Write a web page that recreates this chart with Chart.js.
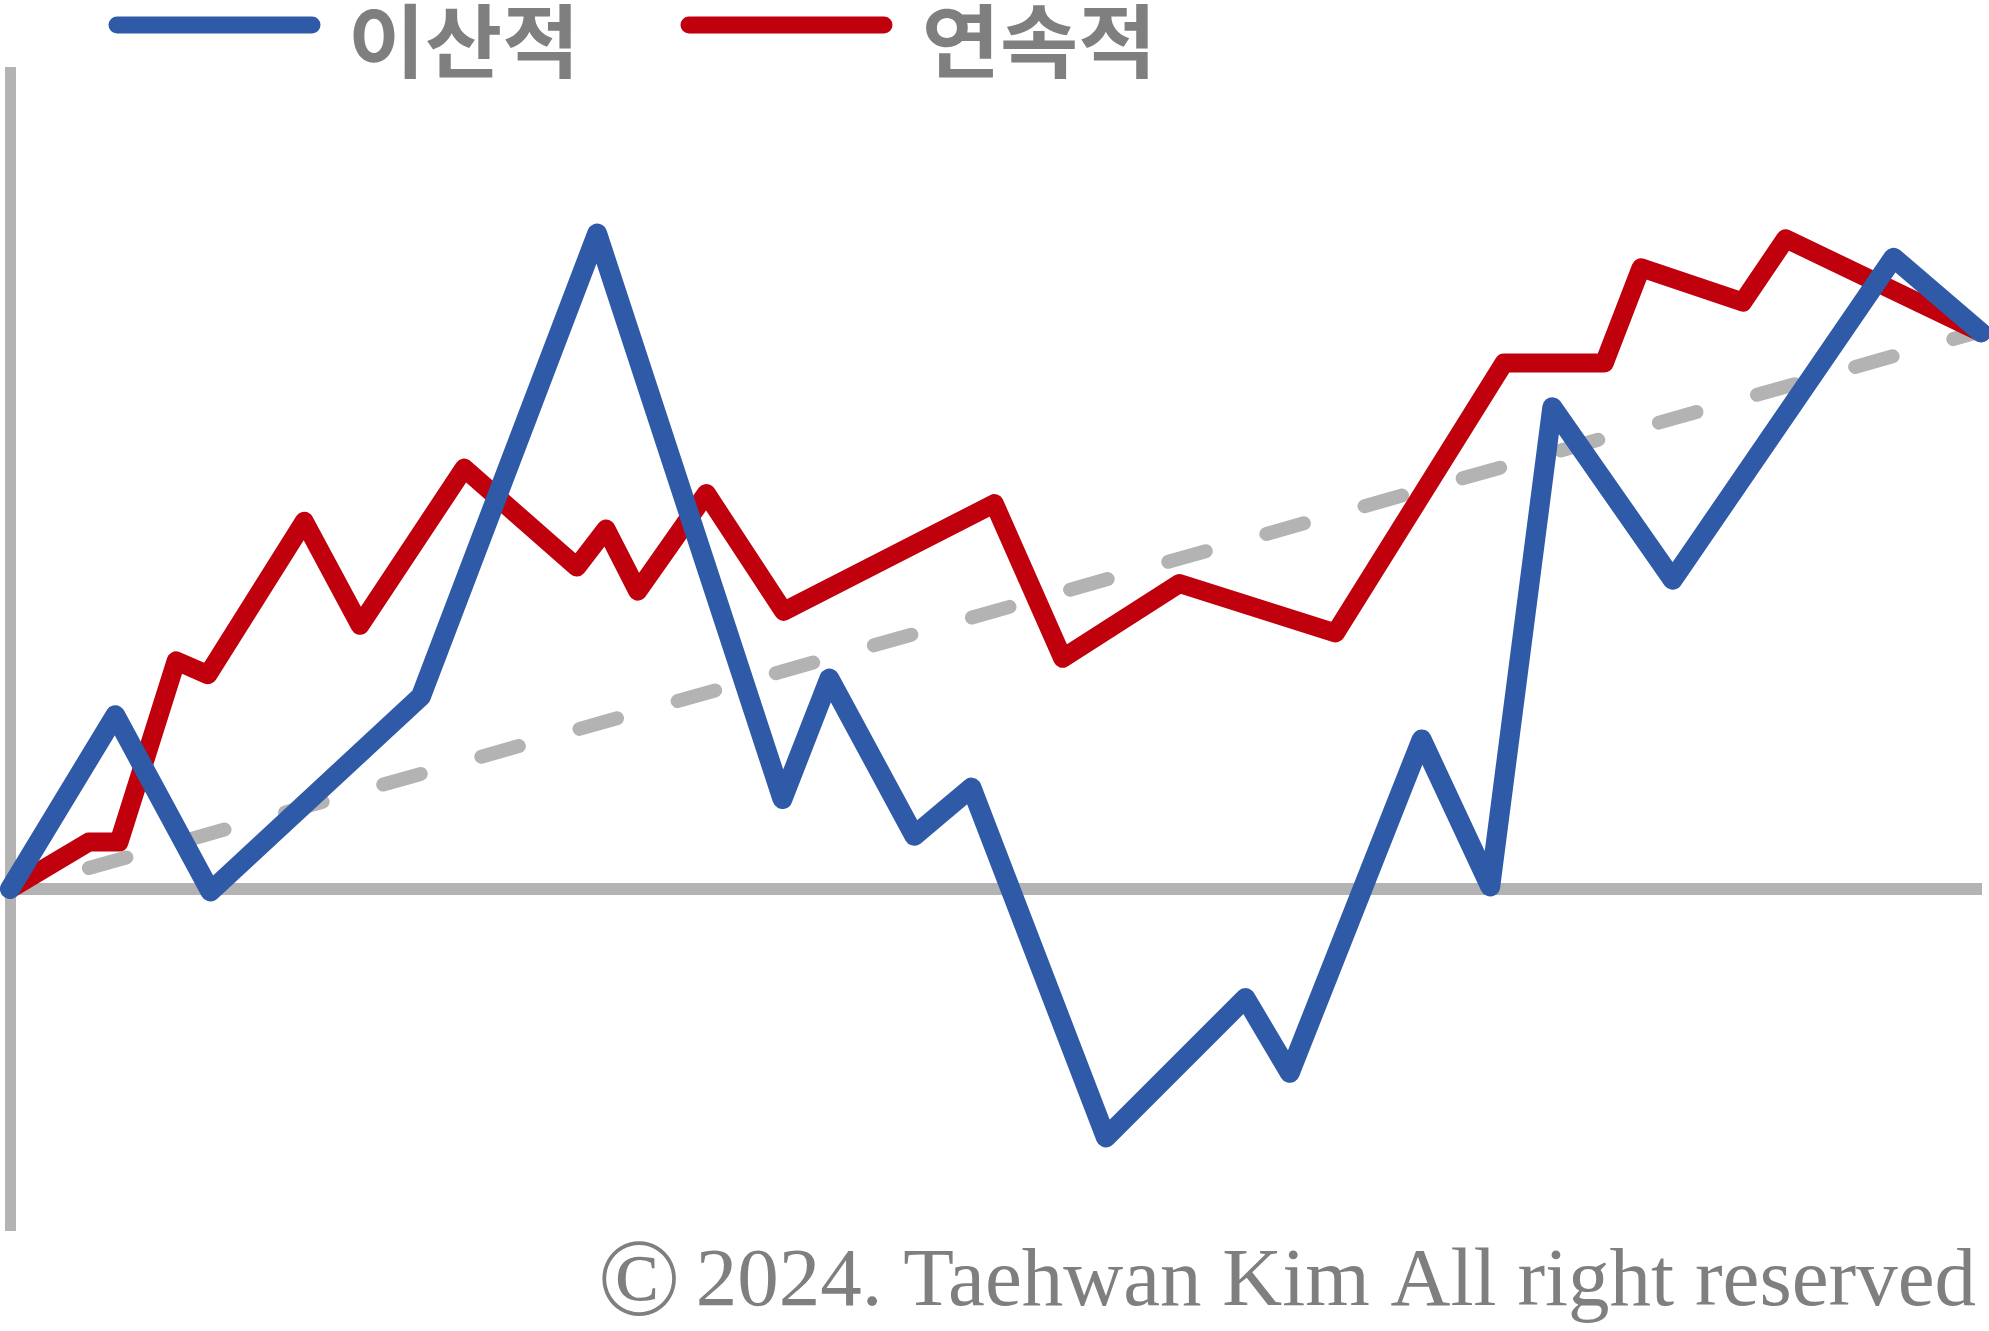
<!DOCTYPE html>
<html><head><meta charset="utf-8">
<script src="https://cdn.jsdelivr.net/npm/chart.js@4.4.1/dist/chart.umd.min.js"></script>
<style>html,body{margin:0;padding:0;background:#fff;overflow:hidden}#wrap{width:1989px;height:1331px;position:relative}</style>
</head><body><div id="wrap"><canvas id="c"></canvas></div>
<script>
// ---- data (x: time units 0..100, y: value, 0 = baseline) ----
const seriesNames = ['이산적', '연속적'];
const discreteX = [0, 5.34, 10.17, 20.85, 29.79, 39.19, 41.57, 45.88, 48.78, 55.60, 62.68, 64.93, 71.62, 75.10, 78.25, 84.36, 95.56, 100];
const discreteY = [0, 27.4, -0.4, 30.4, 103.4, 14.2, 33.2, 8.4, 16.0, -39.2, -17.2, -29.0, 23.6, 0.4, 76.0, 48.8, 99.6, 87.8];
const continuousX = [0, 3.99, 5.53, 8.43, 10.04, 14.93, 17.76, 23.04, 28.76, 30.24, 31.85, 35.33, 39.25, 49.94, 53.41, 59.33, 67.25, 75.80, 80.89, 82.75, 87.91, 90.09, 100];
const continuousY = [0, 7.4, 7.4, 36.0, 33.8, 58.0, 41.6, 66.4, 50.8, 56.8, 47.0, 62.4, 43.8, 60.8, 36.4, 48.2, 40.4, 83.0, 83.0, 98.0, 92.6, 102.6, 87.8];
const trendX = [4, 100];
const trendY = [3.3, 88.0];
const copyrightSymbol = '©';
const copyrightText = '2024. Taehwan Kim All right reserved';

const toPts = (xs, ys) => xs.map((x, i) => ({x, y: ys[i]}));

const BLUE = '#2F5AA8', RED = '#C0000C', GRAY = '#B3B3B3', TEXT = '#7F7F7F';

function drawFitText(ctx, text, weight, family, box, color) {
  ctx.save();
  ctx.font = weight + ' 100px ' + family;
  const m = ctx.measureText(text);
  const w = m.actualBoundingBoxLeft + m.actualBoundingBoxRight;
  const h = m.actualBoundingBoxAscent + m.actualBoundingBoxDescent;
  ctx.translate(box[0], box[1]);
  ctx.scale((box[2] - box[0]) / w, (box[3] - box[1]) / h);
  ctx.fillStyle = color;
  ctx.textAlign = 'left';
  ctx.textBaseline = 'alphabetic';
  ctx.fillText(text, m.actualBoundingBoxLeft, m.actualBoundingBoxAscent);
  ctx.restore();
}

const decor = {
  id: 'decor',
  afterDraw(chart) {
    const ctx = chart.ctx;
    // legend
    const items = [
      {color: chart.data.datasets[0].borderColor, label: chart.data.datasets[0].label, line: [117, 312], box: [353, 3, 571, 79]},
      {color: chart.data.datasets[1].borderColor, label: chart.data.datasets[1].label, line: [689, 884], box: [926, 3, 1148, 79]}
    ];
    items.forEach(it => {
      ctx.save();
      ctx.strokeStyle = it.color;
      ctx.lineWidth = 17;
      ctx.lineCap = 'round';
      ctx.beginPath();
      ctx.moveTo(it.line[0], 25);
      ctx.lineTo(it.line[1], 25);
      ctx.stroke();
      ctx.restore();
      drawFitText(ctx, it.label, 'bold', '"Noto Sans CJK KR"', it.box, TEXT);
    });
    // copyright
    drawFitText(ctx, copyrightSymbol, 'normal', '"Liberation Serif"', [602, 1241, 676, 1316], TEXT);
    ctx.save();
    ctx.font = '83px "Liberation Serif"';
    ctx.fillStyle = TEXT;
    ctx.textAlign = 'right';
    ctx.textBaseline = 'alphabetic';
    ctx.fillText(copyrightText, 1976, 1305);
    ctx.restore();
  }
};

new Chart(document.getElementById('c'), {
  type: 'line',
  data: {
    datasets: [
      {label: seriesNames[0], data: toPts(discreteX, discreteY), borderColor: BLUE, borderWidth: 20,
       borderJoinStyle: 'round', borderCapStyle: 'round', pointRadius: 0, tension: 0, clip: false, fill: false},
      {label: seriesNames[1], data: toPts(continuousX, continuousY), borderColor: RED, borderWidth: 19,
       borderJoinStyle: 'round', borderCapStyle: 'round', pointRadius: 0, tension: 0, clip: false, fill: false},
      {label: 'trend', data: toPts(trendX, trendY), borderColor: GRAY, borderWidth: 14,
       borderDash: [39, 63], borderCapStyle: 'round', pointRadius: 0, tension: 0, clip: false, fill: false}
    ]
  },
  options: {
    responsive: true,
    maintainAspectRatio: false,
    devicePixelRatio: 1,
    animation: false,
    events: [],
    layout: {padding: {left: 10, right: 8, top: 72, bottom: 101}},
    plugins: {legend: {display: false}, tooltip: {enabled: false}, title: {display: false}},
    scales: {
      x: {type: 'linear', min: 0, max: 100, position: {y: 0},
          ticks: {display: false}, grid: {display: false, drawTicks: false},
          border: {display: true, color: GRAY, width: 12}},
      y: {type: 'linear', min: -53.8, max: 128.9, position: 'left',
          ticks: {display: false}, grid: {display: false, drawTicks: false},
          border: {display: true, color: GRAY, width: 11}}
    }
  },
  plugins: [decor]
});
</script>
</body></html>
